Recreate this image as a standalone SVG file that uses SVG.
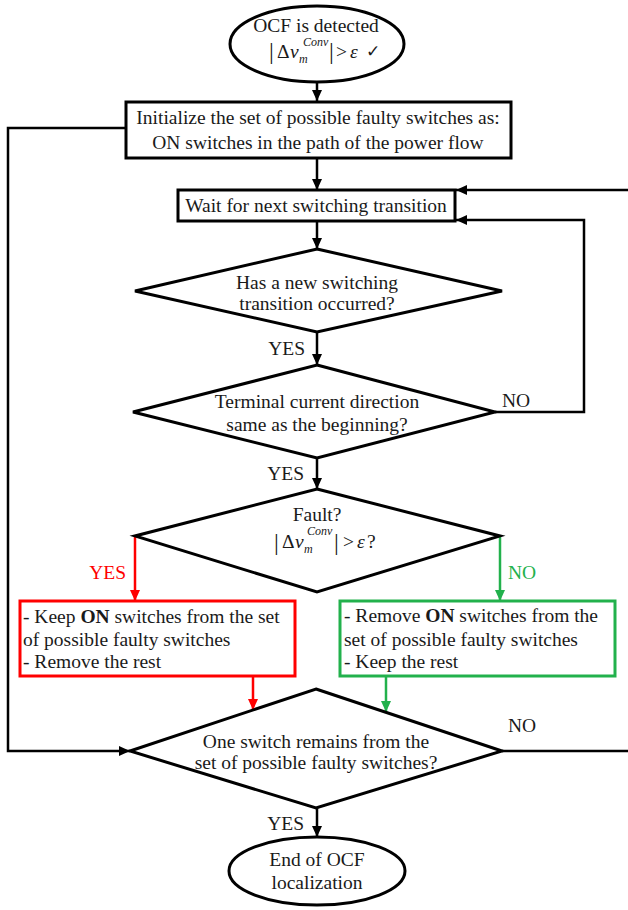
<svg xmlns="http://www.w3.org/2000/svg" width="628" height="910" viewBox="0 0 628 910">
<style>
text{font-family:"Liberation Serif","Times New Roman",serif;font-size:19.5px;fill:#1a1a1a}
.c{text-anchor:middle}
.shape{fill:#fff;stroke:#000;stroke-width:3}
.line{fill:none;stroke:#000;stroke-width:2.5}
.red{stroke:#ff0000}
.green{stroke:#22b14c}
.it{font-style:italic}
.sm{font-size:12px}
.bar{font-size:24px}
</style>
<defs>
<marker id="ab" markerUnits="userSpaceOnUse" markerWidth="11" markerHeight="10" refX="11" refY="5" orient="auto"><path d="M0,0 L11,5 L0,10 z" fill="#000"/></marker>
<marker id="ar" markerUnits="userSpaceOnUse" markerWidth="11" markerHeight="10" refX="11" refY="5" orient="auto"><path d="M0,0 L11,5 L0,10 z" fill="#ff0000"/></marker>
<marker id="ag" markerUnits="userSpaceOnUse" markerWidth="11" markerHeight="10" refX="11" refY="5" orient="auto"><path d="M0,0 L11,5 L0,10 z" fill="#22b14c"/></marker>
</defs>
<rect width="628" height="910" fill="#fff"/>
<g id="connectors">
<path class="line" d="M317,82 V101" marker-end="url(#ab)"/>
<path class="line" d="M317,158 V190" marker-end="url(#ab)"/>
<path class="line" d="M317,221 V249" marker-end="url(#ab)"/>
<path class="line" d="M317,332 V365" marker-end="url(#ab)"/>
<path class="line" d="M317,458 V489" marker-end="url(#ab)"/>
<path class="line red" d="M135,536 V601" marker-end="url(#ar)"/>
<path class="line green" d="M500,536 V601" marker-end="url(#ag)"/>
<path class="line red" d="M253,676 V710" marker-end="url(#ar)"/>
<path class="line green" d="M386,676 V712" marker-end="url(#ag)"/>
<path class="line" d="M125,128 H8 V751 H130" marker-end="url(#ab)"/>
<path class="line" d="M502,751 H632 V190 H456" marker-end="url(#ab)"/>
<path class="line" d="M495,412 H584 V220 H456" marker-end="url(#ab)"/>
<path class="line" d="M317,808 V837" marker-end="url(#ab)"/>
<text x="305" y="355" text-anchor="end">YES</text>
<text x="304" y="480" text-anchor="end">YES</text>
<text x="304" y="830" text-anchor="end">YES</text>
<text x="502" y="407">NO</text>
<text x="508" y="732">NO</text>
<text x="126" y="579" text-anchor="end" style="fill:#ff0000">YES</text>
<text x="508" y="579" style="fill:#22b14c">NO</text>
</g>
<g id="start">
<ellipse class="shape" cx="317" cy="44" rx="87" ry="38"/>
<text class="c" x="316" y="32">OCF is detected</text>
<text class="bar" x="269" y="59">|</text>
<text x="277" y="58">Δ</text>
<text class="it" x="290" y="58">v</text>
<text class="it sm" x="299" y="63">m</text>
<text class="it sm" x="303" y="46">Conv</text>
<text class="bar" x="329" y="59">|</text>
<text x="336" y="58">&gt;</text>
<text class="it" x="350" y="58">ε</text>
<text x="366" y="57" style="font-family:'DejaVu Sans',sans-serif;font-size:17px">✓</text>
</g>
<g id="init">
<rect class="shape" x="126" y="102" width="385" height="56"/>
<text class="c" x="318" y="124">Initialize the set of possible faulty switches as:</text>
<text class="c" x="318" y="149">ON switches in the path of the power flow</text>
</g>
<g id="wait">
<rect class="shape" x="178" y="190" width="277" height="31"/>
<text class="c" x="316" y="212">Wait for next switching transition</text>
</g>
<g id="dec-transition">
<polygon class="shape" points="317,249 502,291 317,332 135,291"/>
<text class="c" x="317" y="289">Has a new switching</text>
<text class="c" x="317" y="310">transition occurred?</text>
</g>
<g id="dec-direction">
<polygon class="shape" points="317,365 495,412 317,458 133,412"/>
<text class="c" x="317" y="408">Terminal current direction</text>
<text class="c" x="317" y="431">same as the beginning?</text>
</g>
<g id="dec-fault">
<polygon class="shape" points="317,489 500,536 317,592 135,536"/>
<text class="c" x="317" y="521">Fault?</text>
<text class="bar" x="274" y="550">|</text>
<text x="282" y="548">Δ</text>
<text class="it" x="295" y="548">v</text>
<text class="it sm" x="304" y="553">m</text>
<text class="it sm" x="307" y="535">Conv</text>
<text class="bar" x="334" y="550">|</text>
<text x="343" y="548">&gt;</text>
<text class="it" x="357" y="548">ε</text>
<text x="367" y="548">?</text>
</g>
<g id="keep-on">
<rect class="shape red" x="20" y="601" width="275" height="75"/>
<text x="23" y="623">- Keep <tspan font-weight="bold">ON</tspan> switches from the set</text>
<text x="23" y="646">of possible faulty switches</text>
<text x="23" y="668">- Remove the rest</text>
</g>
<g id="remove-on">
<rect class="shape green" x="340" y="601" width="275" height="75"/>
<text x="344" y="622">- Remove <tspan font-weight="bold">ON</tspan> switches from the</text>
<text x="344" y="646">set of possible faulty switches</text>
<text x="344" y="668">- Keep the rest</text>
</g>
<g id="dec-remains">
<polygon class="shape" points="316,689 502,751 316,808 130,751"/>
<text class="c" x="316" y="748">One switch remains from the</text>
<text class="c" x="316" y="769">set of possible faulty switches?</text>
</g>
<g id="end">
<ellipse class="shape" cx="317" cy="871" rx="88" ry="34"/>
<text class="c" x="317" y="866">End of OCF</text>
<text class="c" x="317" y="889">localization</text>
</g>
</svg>
